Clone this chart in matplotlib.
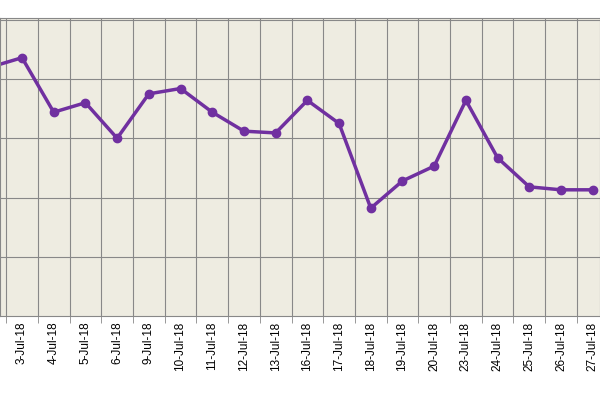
import matplotlib
matplotlib.use("Agg")
import matplotlib.pyplot as plt
import numpy as np

dates = ["2-Jul-18", "3-Jul-18", "4-Jul-18", "5-Jul-18", "6-Jul-18", "9-Jul-18",
         "10-Jul-18", "11-Jul-18", "12-Jul-18", "13-Jul-18", "16-Jul-18", "17-Jul-18",
         "18-Jul-18", "19-Jul-18", "20-Jul-18", "23-Jul-18", "24-Jul-18", "25-Jul-18",
         "26-Jul-18", "27-Jul-18"]
values = [4.2, 4.36, 3.44, 3.6, 3.0, 3.75, 3.84, 3.44, 3.12, 3.09, 3.64, 3.25,
          1.82, 2.28, 2.53, 3.64, 2.67, 2.18, 2.13, 2.13]

x = np.arange(len(dates))

fig = plt.figure(figsize=(6, 4), dpi=100)
ax = fig.add_axes([0, 0.21, 1, 0.745])
ax.set_facecolor("#EEECE1")
ax.plot(x, values, color="#7030A0", lw=2.5, marker="o", ms=6)

ax.set_yticks([1, 2, 3, 4, 5])
ax.set_yticklabels([])
ax.tick_params(axis="y", length=0)
ax.set_xticks(x)
ax.set_xticklabels(dates, rotation=90, fontsize=8.5, fontfamily="Liberation Sans")
ax.set_xticks(x + 0.5, minor=True)
ax.tick_params(axis="x", which="major", length=0, pad=4)
ax.tick_params(axis="x", which="minor", length=5, color="#888888")
ax.grid(axis="y", color="#888888", lw=0.8)
ax.grid(axis="x", which="minor", color="#888888", lw=0.8)
ax.set_axisbelow(True)
for s in ax.spines.values():
    s.set_color("#888888")

# limits after ticks so the tick setters do not widen the view
ax.set_xlim(0.306, 19.23)
ax.set_ylim(0, 5.03)
# first date sits outside the cropped view in the reference
ax.get_xticklabels()[0].set_visible(False)

fig.savefig("out.png", dpi=100)
